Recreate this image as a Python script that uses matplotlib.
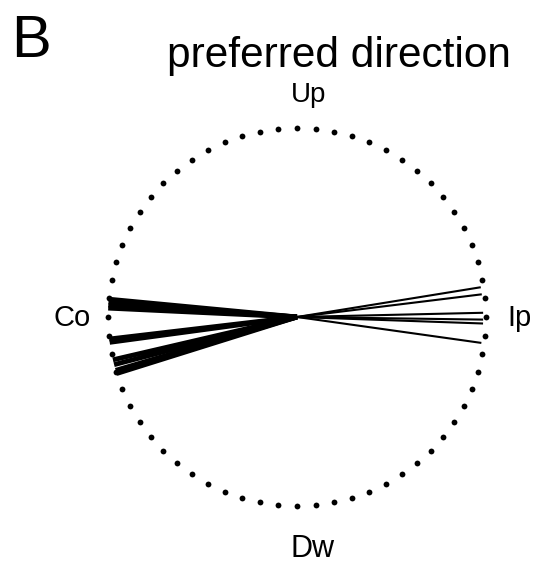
import numpy as np
import matplotlib
matplotlib.use("Agg")
import matplotlib.pyplot as plt

plt.rcParams['font.family'] = ['Liberation Sans', 'DejaVu Sans']

# Preferred directions (degrees, 0 = ipsilateral, 90 = up)
contra_dirs = [174.6, 175.5, 176.4, 177.3, 186.7, 187.7, 193.1, 194.6, 196.4, 197.4]
ipsi_dirs = [9.2, 7.0, 1.3, -0.8, -2.0, -8.0]

axis_labels = {"Up": 90, "Co": 180, "Dw": 270, "Ip": 0}
n_dots = 64

W, H = 546, 568
cx, cy, R = 297, 317, 189  # circle centre and radius in pixels

fig = plt.figure(figsize=(W / 100, H / 100), dpi=100)
ax = fig.add_axes([0, 0, 1, 1])
ax.axis('off')
ax.set_xlim(-cx / R, (W - cx) / R)
ax.set_ylim(-(H - cy) / R, cy / R)
ax.set_aspect('equal')

# dotted unit circle
th = np.linspace(0, 2 * np.pi, n_dots, endpoint=False)
ax.plot(np.cos(th), np.sin(th), linestyle='none', marker='o', ms=4.2,
        color='black', mec='none')

# preferred-direction vectors
for d in contra_dirs:
    a = np.deg2rad(d)
    ax.plot([0, np.cos(a)], [0, np.sin(a)], color='black', lw=3.5,
            solid_capstyle='butt')
for d in ipsi_dirs:
    a = np.deg2rad(d)
    ax.plot([0, 0.985 * np.cos(a)], [0, 0.985 * np.sin(a)], color='black',
            lw=1.5, solid_capstyle='butt')


def ftext(x, y, s, **kw):
    fig.text(x / W, 1 - y / H, s, va='baseline', color='black', **kw)


ftext(11, 57, "B", fontsize=43, ha='left')
ftext(338.5, 67, "preferred direction", fontsize=30.5, ha='center')
ftext(308.5, 102, "Up", fontsize=20, ha='center')
ftext(72, 326, "Co", fontsize=21, ha='center')
ftext(519.5, 326, "Ip", fontsize=21, ha='center')
ftext(312.5, 557, "Dw", fontsize=22, ha='center')

fig.savefig("out.png", dpi=100)
